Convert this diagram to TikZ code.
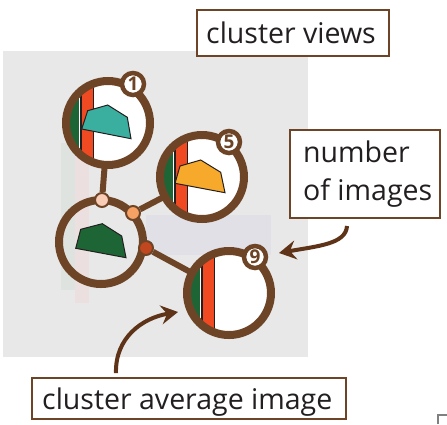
\documentclass[tikz,border=0pt]{standalone}
\usepackage{fontspec}
\setmainfont{Open Sans}
\usetikzlibrary{arrows.meta}
\definecolor{bgray}{RGB}{232,232,232}
\definecolor{ring}{RGB}{110,68,38}
\definecolor{arrowc}{RGB}{94,51,23}
\definecolor{txt}{RGB}{35,31,32}
\definecolor{dgreen}{RGB}{30,101,53}
\definecolor{ored}{RGB}{240,74,35}
\definecolor{teal}{RGB}{58,175,160}
\definecolor{yor}{RGB}{247,169,43}
\definecolor{peach}{RGB}{249,205,181}
\definecolor{lorange}{RGB}{247,162,101}
\definecolor{dorange}{RGB}{192,71,30}
\definecolor{fgreen}{RGB}{223,227,223}
\definecolor{fpink}{RGB}{236,223,223}
\definecolor{fblue}{RGB}{224,224,230}
\tikzset{
  labelbox/.style={draw=ring, line width=1.8pt, fill=white, inner sep=0pt},
  labeltext/.style={text=txt, font=\fontsize{28.5}{34}\selectfont, inner sep=0pt},
  ringc/.style={circle, draw=ring, line width=8pt, minimum size=84pt, inner sep=0pt},
  badge/.style={circle, draw=ring, line width=4.5pt, fill=white, minimum size=22pt, inner sep=0pt, text=ring, font=\fontsize{19}{19}\selectfont\bfseries},
  dot/.style={circle, draw=ring, line width=2pt, minimum size=14pt, inner sep=0pt},
  conn/.style={draw=ring, line width=6pt},
  callout/.style={draw=arrowc, line width=4pt, -{Stealth[length=17pt,width=19pt,inset=6pt]}},
  outline/.style={draw=txt, line width=1pt}
}
\newcommand{\stripes}[2]{%
  \fill[dgreen] (#1-50,#2-50) rectangle (#1-28.7,#2+50);
  \fill[ored] (#1-26.3,#2-50) rectangle (#1-15.3,#2+50);
  \draw[txt, line width=2pt] (#1-27.5,#2-50) -- (#1-27.5,#2+50);
  \draw[txt, line width=1.6pt] (#1-14.5,#2-50) -- (#1-14.5,#2+50);
}
\begin{document}
\begin{tikzpicture}[x=1pt,y=-1pt]
\useasboundingbox (0,0) rectangle (447,424);
\fill[white] (0,0) rectangle (447,424);
% background
\fill[bgray] (3,51) rectangle (308,357);
\fill[fgreen] (61,143) rectangle (75,290);
\fill[fpink] (75,157) rectangle (89,303);
\fill[fblue] (146,215) rectangle (271,255);
% centres
\coordinate (c1) at (108,123);
\coordinate (c5) at (202,177);
\coordinate (c9) at (229,293);
\coordinate (cl) at (101,242);
% connectors
\node[dot, draw=none] (pd) at (102,200) {};
\node[dot, draw=none] (od) at (133,213) {};
\node[dot, draw=none] (dd) at (146,248) {};
\path[conn] (c1) -- (pd);
\path[conn] (od) -- (c5);
\path[conn] (dd) -- (c9);
% circle 1
\begin{scope}
  \clip (c1) circle (40pt);
  \fill[white] (c1) circle (40pt);
  \stripes{108}{123}
  \draw[outline, fill=teal] (81.7,129) -- (87.7,110.7) -- (107.7,105) -- (127.3,117.3) -- (131,138.7) -- cycle;
\end{scope}
\node[ringc] (v1) at (c1) {};
% circle 5
\begin{scope}
  \clip (c5) circle (40pt);
  \fill[white] (c5) circle (40pt);
  \stripes{202}{177}
  \draw[outline, fill=yor] (175,183.3) -- (180,166) -- (200.7,160) -- (220.7,172.3) -- (225,192.7) -- cycle;
\end{scope}
\node[ringc] (v5) at (c5) {};
% circle 9
\begin{scope}
  \clip (c9) circle (40pt);
  \fill[white] (c9) circle (40pt);
  \stripes{229}{293}
\end{scope}
\node[ringc] (v9) at (c9) {};
% left cluster circle
\draw[outline, fill=dgreen] (75.7,248.3) -- (80.7,229.3) -- (102.3,223.7) -- (121.7,236) -- (126,257.7) -- cycle;
\node[ringc] (vl) at (cl) {};
% dots
\node[dot, fill=peach] (pd2) at (pd) {};
\node[dot, fill=lorange] (od2) at (od) {};
\node[dot, fill=dorange] (dd2) at (dd) {};
% badges
\node[badge] (b1) at (133,84) {1};
\node[badge] (b5) at (229,142) {5};
\node[badge] (b9) at (255,257) {9};
% labels
\node[labelbox, minimum width=192pt, minimum height=46pt] (lv) at (293,33) {};
\node[labeltext, anchor=base west] (lvt) at (206,43) {cluster views};
\node[labelbox, minimum width=150pt, minimum height=88pt] (ln) at (365,174) {};
\node[labeltext, anchor=base west] (lnt1) at (303,162) {number};
\node[labeltext, anchor=base west] (lnt2) at (303,200) {of images};
\node[labelbox, minimum width=314pt, minimum height=41pt] (la) at (189,398.5) {};
\node[labeltext, anchor=base west] (lat) at (42,409) {cluster average image};
% callout arrows
\coordinate (a1s) at (347,226);
\coordinate (a1e) at (279,253);
\draw[callout] (a1s) .. controls (346,244) and (318,246) .. (a1e);
\coordinate (a2s) at (116,373);
\coordinate (a2e) at (178,312);
\draw[callout] (a2s) .. controls (115,338) and (142,318) .. (a2e);
% corner mark
\draw[gray, line width=2pt] (438,424) -- (438,415) -- (447,415);
\end{tikzpicture}
\end{document}
